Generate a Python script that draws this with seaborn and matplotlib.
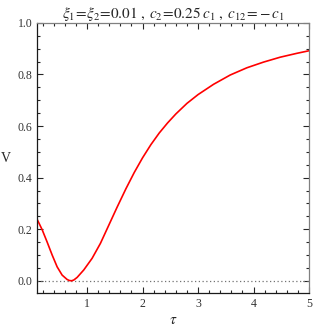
import numpy as np
import pandas as pd
import seaborn as sns
import matplotlib.pyplot as plt
from matplotlib.ticker import MultipleLocator

# values
tau = [0.1, 0.19, 0.28, 0.37, 0.46, 0.55, 0.64, 0.68, 0.72, 0.76, 0.82, 0.94,
       1.09, 1.24, 1.39, 1.54, 1.70, 1.85, 2.0, 2.15, 2.3, 2.45, 2.6, 2.8,
       3.0, 3.28, 3.58, 3.88, 4.18, 4.48, 4.78, 5.0]
V = [0.238, 0.198, 0.150, 0.100, 0.054, 0.022, 0.005, 0.001, 0.0, 0.003, 0.013, 0.042,
     0.087, 0.145, 0.215, 0.285, 0.357, 0.420, 0.477, 0.528, 0.573, 0.612, 0.647, 0.688,
     0.722, 0.762, 0.798, 0.826, 0.848, 0.867, 0.882, 0.892]
xticks = [1, 2, 3, 4, 5]
yticks = [0.0, 0.2, 0.4, 0.6, 0.8, 1.0]

sns.set_theme(style="ticks")
plt.rcParams['font.family'] = ['Liberation Serif', 'DejaVu Serif']
plt.rcParams['mathtext.fontset'] = 'stix'

df = pd.DataFrame({"tau": tau, "V": V})

fig = plt.figure(figsize=(3.15, 3.32), dpi=100)
ax = fig.add_axes([0.118, 0.117, 0.863, 0.814])

ax.axhline(0, color="0.45", lw=0.9, ls=(0, (1, 2)))
sns.lineplot(data=df, x="tau", y="V", color="red", lw=1.2, ax=ax)

ax.set_xlim(0.1, 5.0)
ax.set_ylim(-0.048, 1.0)
ax.set_xticks(xticks)
ax.set_xticklabels([str(t) for t in xticks])
ax.set_yticks(yticks)
ax.set_yticklabels([f"{t:.1f}" for t in yticks])
ax.xaxis.set_minor_locator(MultipleLocator(0.2))
ax.yaxis.set_minor_locator(MultipleLocator(0.05))
ax.tick_params(which="both", direction="in", top=True, right=True,
               labelsize=8.5, labelcolor="#333333", width=0.8, colors="0.15")
ax.tick_params(which="major", length=4)
ax.tick_params(which="minor", length=2)
for s in ["left", "bottom"]:
    ax.spines[s].set_color("0.1")
for s in ["top", "right"]:
    ax.spines[s].set_color("0.5")
for s in ax.spines.values():
    s.set_linewidth(0.9)

ax.set_xlabel(r"$\tau$", fontsize=11, labelpad=3)
ax.set_ylabel("V", fontsize=10, rotation=0, labelpad=8, va="center")
ax.set_title(r"$\xi_1\!=\!\xi_2\!=\!0.01\;,\; c_2\!=\!0.25\;c_1\;,\; c_{12}\!=\!-c_1$",
             fontsize=11, pad=3)

fig.savefig("out.png", dpi=100)
